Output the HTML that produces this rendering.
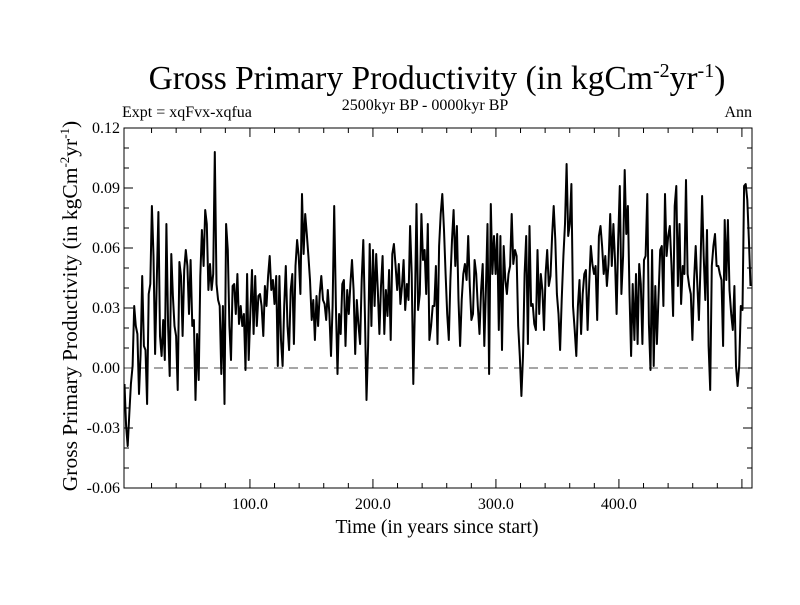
<!DOCTYPE html>
<html><head><meta charset="utf-8"><style>
body{margin:0;background:#fff}
svg text{font-family:"Liberation Serif",serif;fill:#000}
</style></head><body>
<svg id="chart" width="800" height="600" xmlns="http://www.w3.org/2000/svg">
<text x="437" y="89" font-size="33.5" text-anchor="middle">Gross Primary Productivity (in kgCm<tspan dy="-12" font-size="20">-2</tspan><tspan dy="12">yr</tspan><tspan dy="-12" font-size="20">-1</tspan><tspan dy="12">)</tspan></text>
<text x="122" y="117" font-size="16">Expt = xqFvx-xqfua</text>
<text x="425" y="110" font-size="16" text-anchor="middle">2500kyr BP - 0000kyr BP</text>
<text x="752" y="117" font-size="16" text-anchor="end">Ann</text>
<text transform="translate(77,306) rotate(-90)" font-size="21.5" text-anchor="middle">Gross Primary Productivity (in kgCm<tspan dy="-8" font-size="13">-2</tspan><tspan dy="8">yr</tspan><tspan dy="-8" font-size="13">-1</tspan><tspan dy="8">)</tspan></text>
<text x="437" y="533" font-size="19.5" text-anchor="middle">Time (in years since start)</text>
<g id="axes"></g>
<line id="zero" stroke="#888" stroke-width="1.5" stroke-dasharray="9,6"/>
<path id="series" fill="none" stroke="#000" stroke-width="2" stroke-linejoin="round"/>
<rect x="124" y="128" width="628" height="360" fill="none" stroke="#000" stroke-width="1"/>
</svg>
<script>
const yTickValues=[-0.06,-0.03,0.00,0.03,0.06,0.09,0.12];
const yTickLabels=["-0.06","-0.03","0.00","0.03","0.06","0.09","0.12"];
const xTickValues=[100,200,300,400];
const xTickLabels=["100.0","200.0","300.0","400.0"];
const yearStart=-2;
const yearEnd=507;
const gpp=[-0.008,-0.029,-0.039,-0.023,-0.008,0.001,0.031,0.021,0.017,-0.013,0.007,0.046,0.011,0.009,-0.018,0.037,0.042,0.081,0.056,0.007,0.044,0.078,0.016,0.006,0.024,0.004,0.072,0.021,-0.004,0.057,0.036,0.021,0.016,-0.011,0.053,0.046,0.016,0.049,0.059,0.051,0.027,0.054,0.021,0.024,-0.016,0.017,-0.006,0.046,0.069,0.051,0.079,0.072,0.039,0.052,0.039,0.047,0.108,0.042,0.034,0.031,-0.003,0.031,-0.018,0.072,0.059,0.021,0.004,0.041,0.042,0.027,0.047,0.022,0.031,0.021,0.027,-0.001,0.047,0.004,0.027,0.049,0.017,0.046,0.021,0.036,0.037,0.031,0.016,0.041,0.031,0.046,0.056,0.039,0.044,0.032,0.046,0.001,0.046,
0.014,0.001,0.031,0.051,0.021,0.009,0.039,0.047,0.012,0.051,0.064,0.056,0.037,0.087,0.057,0.077,0.067,0.056,0.044,0.024,0.034,0.014,0.036,0.021,0.037,0.046,0.034,0.032,0.024,0.039,0.027,0.006,0.031,0.081,0.031,-0.003,0.027,0.017,0.042,0.044,0.011,0.039,0.027,0.042,0.054,0.039,0.007,0.034,0.022,0.012,0.044,0.064,0.027,-0.016,0.011,0.062,0.021,0.059,0.031,0.057,0.039,0.017,0.041,0.056,0.017,0.039,0.026,0.049,0.014,0.057,0.062,0.051,0.039,0.052,0.032,0.041,0.054,0.029,0.042,0.034,0.071,0.047,-0.008,0.031,0.082,0.029,0.037,0.077,0.054,0.059,0.037,0.072,0.014,0.021,0.031,
0.031,0.051,0.012,0.061,0.077,0.087,0.069,0.047,0.027,0.014,0.044,0.064,0.079,0.051,0.071,0.034,0.011,0.034,0.047,0.052,0.044,0.066,0.041,0.024,0.027,0.054,0.047,0.031,0.017,0.039,0.052,0.011,0.039,0.072,-0.003,0.082,0.047,0.066,0.047,0.067,0.019,0.066,0.009,0.061,0.044,0.037,0.047,0.051,0.077,0.052,0.059,0.056,0.021,0.006,-0.014,0.006,0.047,0.066,0.012,0.071,0.031,0.032,0.022,0.019,0.059,0.027,0.047,0.039,0.019,0.047,0.059,0.041,0.046,0.066,0.081,0.064,0.037,0.027,0.009,0.034,0.056,0.072,0.102,0.066,0.072,0.092,0.031,0.019,0.006,0.031,0.044,0.017,0.037,0.047,0.049,0.019,0.042,0.061,0.052,0.047,0.051,0.024,0.066,0.071,0.061,
0.047,0.056,0.041,0.052,0.077,0.051,0.072,0.054,0.027,0.064,0.091,0.037,0.056,0.099,0.067,0.081,0.037,0.006,0.042,0.014,0.047,0.012,0.052,0.042,0.012,0.054,0.056,0.087,0.022,-0.001,0.059,0.001,0.041,0.012,0.037,0.059,0.061,0.031,0.087,0.056,0.066,0.071,0.051,0.026,0.081,0.091,0.041,0.072,0.032,0.051,0.047,0.094,0.047,0.041,0.037,0.014,0.044,0.061,0.042,0.024,0.051,0.086,0.056,0.034,0.069,0.011,-0.011,0.051,0.061,0.067,0.051,0.051,0.047,0.044,0.011,0.074,0.044,0.074,0.039,0.027,0.019,0.041,0.001,-0.009,0.001,0.031,0.029,0.091,0.092,0.084,0.064,0.041];

const L=124,R=752,T=128,B=488;
const xMin=-2.4,xMax=508.2,yMin=-0.06,yMax=0.12;
function xs(v){return L+(v-xMin)/(xMax-xMin)*(R-L);}
function ys(v){return B-(v-yMin)/(yMax-yMin)*(B-T);}
const NS="http://www.w3.org/2000/svg";
const axes=document.getElementById('axes');
function ln(x1,y1,x2,y2,name){
  const l=document.createElementNS(NS,'line');
  l.setAttribute('x1',x1);l.setAttribute('y1',y1);l.setAttribute('x2',x2);l.setAttribute('y2',y2);
  l.setAttribute('stroke','#000');l.setAttribute('stroke-width','1');
  
  
  axes.appendChild(l);
}
function tx(x,y,s,anchor,name){
  const t=document.createElementNS(NS,'text');
  t.setAttribute('x',x);t.setAttribute('y',y);t.setAttribute('font-size','16');t.setAttribute('text-anchor',anchor);
  t.textContent=s;
  
  
  axes.appendChild(t);
}
for(let v=-0.06;v<=0.1201;v+=0.01){
  const y=ys(v);const major=Math.abs(Math.round(v*100)%3)===0;const len=major?9:5;
  ln(L,y,L+len,y,'y-tick');ln(R,y,R-len,y,'y-tick-right');
}
yTickValues.forEach((v,i)=>tx(L-4,ys(v)+5,yTickLabels[i],'end','y-tick-label'));
for(let v=20;v<=500;v+=20){
  const x=xs(v);const major=v%100===0;const len=major?9:5;
  ln(x,B,x,B-len,'x-tick');ln(x,T,x,T+len,'x-tick-top');
}
xTickValues.forEach((v,i)=>tx(xs(v),B+21,xTickLabels[i],'middle','x-tick-label'));
const z=document.getElementById('zero');
z.setAttribute('x1',L);z.setAttribute('x2',R);z.setAttribute('y1',ys(0));z.setAttribute('y2',ys(0));
let d='';const n=gpp.length;
gpp.forEach((v,i)=>{const yr=yearStart+i*(yearEnd-yearStart)/(n-1);d+=(i?'L':'M')+xs(yr).toFixed(1)+','+ys(v).toFixed(1);});
document.getElementById('series').setAttribute('d',d);
</script>
</body></html>
